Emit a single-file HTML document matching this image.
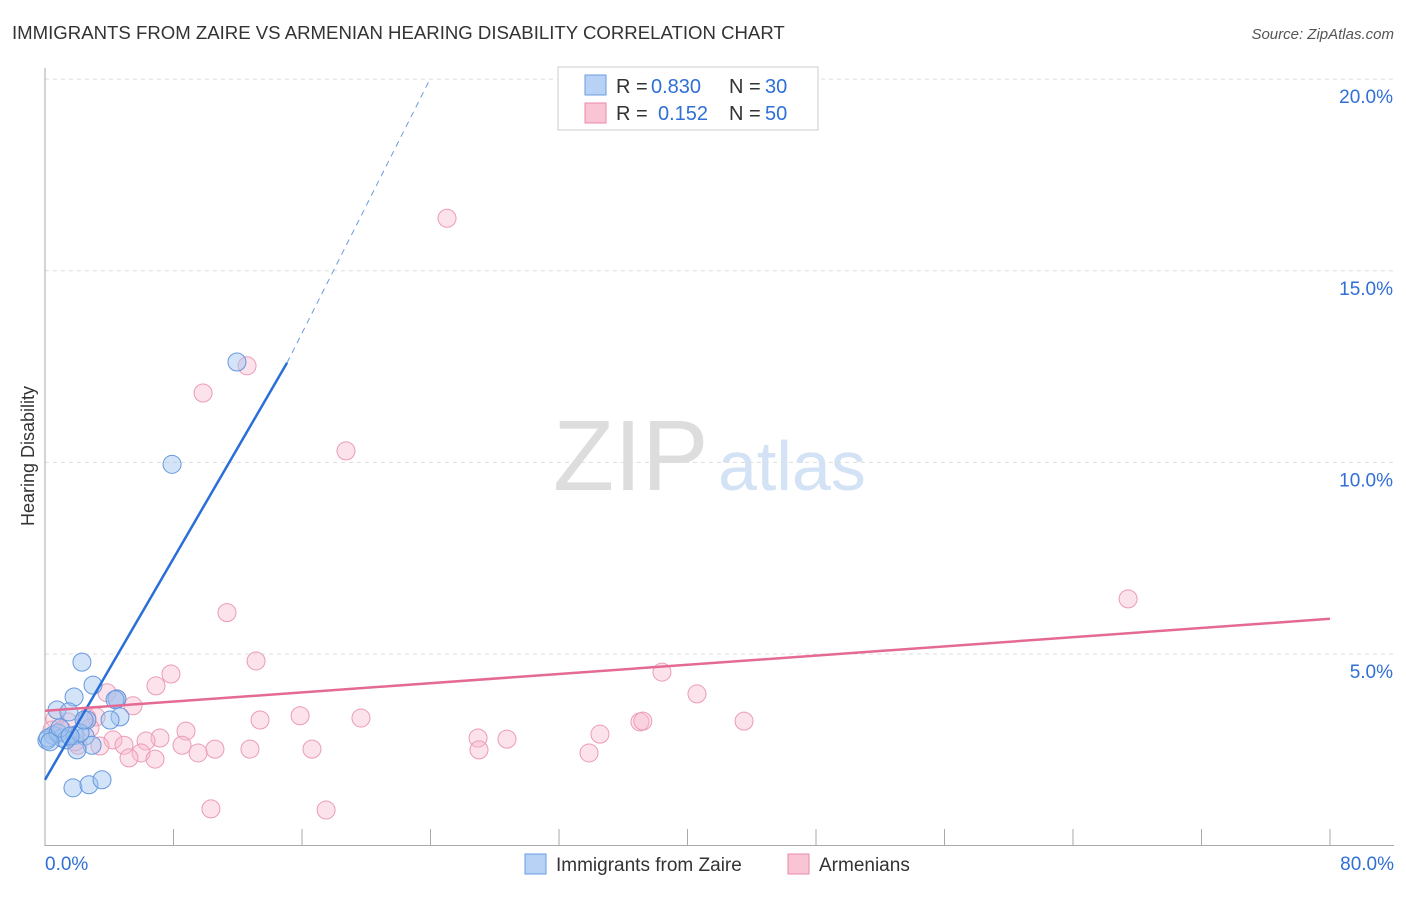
<!DOCTYPE html>
<html><head><meta charset="utf-8"><style>
body{margin:0;background:#fff;font-family:"Liberation Sans",sans-serif}
svg text{font-family:"Liberation Sans",sans-serif}
</style></head><body>
<svg id="c" width="1406" height="892">
<text x="12" y="39" font-size="18.6" fill="#333">IMMIGRANTS FROM ZAIRE VS ARMENIAN HEARING DISABILITY CORRELATION CHART</text>
<text x="1394" y="39" font-size="15" fill="#555" text-anchor="end" font-style="italic">Source: ZipAtlas.com</text>
<text x="553" y="490" font-size="100" fill="#ddd" font-family="Liberation Serif">ZIP</text>
<text x="718" y="490" font-size="70" fill="#d3e3f5">atlas</text>
<text transform="translate(34,456) rotate(-90)" font-size="18" fill="#333" text-anchor="middle">Hearing Disability</text>
<g id="grid"></g><g id="pts"></g><g id="lines"></g>
<g>
<rect x="558" y="67" width="260" height="63" fill="#fff" stroke="#ccc"/>
<rect x="585" y="75" width="21" height="20" fill="#b7d2f5" stroke="#6a9be0"/>
<rect x="585" y="103" width="21" height="20" fill="#f9c5d4" stroke="#e98aa8"/>
<text x="616" y="93" font-size="20" fill="#333">R =</text>
<text x="651" y="93" font-size="20" fill="#2f6fd6">0.830</text>
<text x="729" y="93" font-size="20" fill="#333">N =</text>
<text x="765" y="93" font-size="20" fill="#2f6fd6">30</text>
<text x="616" y="120" font-size="20" fill="#333">R =</text>
<text x="658" y="120" font-size="20" fill="#2f6fd6">0.152</text>
<text x="729" y="120" font-size="20" fill="#333">N =</text>
<text x="765" y="120" font-size="20" fill="#2f6fd6">50</text>
</g>
<g>
<rect x="525" y="854" width="21" height="20" fill="#b7d2f5" stroke="#6a9be0"/>
<text x="556" y="871" font-size="19" fill="#333">Immigrants from Zaire</text>
<rect x="788" y="854" width="21" height="20" fill="#f9c5d4" stroke="#e98aa8"/>
<text x="819" y="871" font-size="19" fill="#333">Armenians</text>
</g>
</svg>
<script>
const xTicks=[0,8,16,24,32,40,48,56,64,72,80];
const yTicks=[5,10,15,20];
const blueX=[11.95,7.91,2.30,2.99,1.81,0.75,1.49,4.48,4.67,2.61,0.12,0.50,1.06,1.87,2.49,2.93,1.99,1.74,2.74,3.55,0.19,0.81,1.31,2.18,4.05,2.43,0.31,0.93,1.56,4.36];
const blueY=[12.62,9.95,4.79,4.19,3.88,3.54,3.49,3.83,3.36,3.28,2.75,2.88,2.81,2.88,2.86,2.62,2.50,1.51,1.59,1.72,2.81,2.94,2.76,2.94,3.28,3.28,2.71,3.07,2.86,3.81];
const pinkX=[25.03,12.58,9.84,18.74,67.43,11.33,13.14,38.41,7.84,6.91,40.59,3.86,4.48,5.48,3.18,15.88,19.67,13.39,37.04,37.22,43.52,2.61,1.43,0.62,0.44,8.78,7.16,6.29,4.23,26.96,28.76,34.55,8.53,4.92,3.42,10.58,12.76,16.62,27.02,9.53,5.98,33.87,5.23,6.85,2.05,10.33,17.50,1.06,1.87,2.80];
const pinkY=[16.37,12.52,11.81,10.30,6.44,6.08,4.82,4.53,4.48,4.17,3.96,3.99,3.83,3.65,3.36,3.39,3.33,3.28,3.23,3.25,3.25,3.33,3.23,3.31,3.02,2.99,2.81,2.73,2.76,2.81,2.78,2.91,2.62,2.62,2.60,2.52,2.52,2.52,2.50,2.42,2.42,2.42,2.29,2.26,2.62,0.96,0.93,3.02,2.71,3.07];
const blueLine=[[0,1.72],[15.07,12.6],[23.97,20.0]];
const pinkLine=[[0,3.52],[80,5.92]];
const X=v=>45+v/80*1285, Y=v=>845.7-v*38.33;
const NS='http://www.w3.org/2000/svg';
function mk(t,a,p){const e=document.createElementNS(NS,t);for(const k in a)e.setAttribute(k,a[k]);p.appendChild(e);return e;}
const g=document.getElementById('grid');
yTicks.forEach(v=>{
 const l=mk('line',{x1:45,x2:1394,y1:Y(v),y2:Y(v),stroke:'#ddd','stroke-dasharray':'4,4'},g);
 
 
 const t=mk('text',{x:1393,y:Y(v)+24,'font-size':19,fill:'#2f6fd6','text-anchor':'end'},g);t.textContent=v.toFixed(1)+'%';
 
 
});
mk('line',{x1:45,x2:45,y1:68,y2:846,stroke:'#aaa'},g);
mk('line',{x1:45,x2:1394,y1:845.5,y2:845.5,stroke:'#aaa'},g);
xTicks.forEach(v=>{const l=mk('line',{x1:X(v),x2:X(v),y1:829,y2:846,stroke:'#aaa'},g);
 
 });
[[0,'0.0%',45,'start'],[80,'80.0%',1394,'end']].forEach(a=>{const t=mk('text',{x:a[2],y:870,'font-size':19,fill:'#2f6fd6','text-anchor':a[3]},g);t.textContent=a[1];
 
 });
const p=document.getElementById('pts');
pinkX.forEach((v,i)=>{const c=mk('circle',{cx:X(v),cy:Y(pinkY[i]),r:9,fill:'rgba(247,185,205,0.4)',stroke:'#ec9bb5','stroke-width':1},p);
 
 });
blueX.forEach((v,i)=>{const c=mk('circle',{cx:X(v),cy:Y(blueY[i]),r:9,fill:'rgba(160,195,240,0.45)',stroke:'#6598de','stroke-width':1},p);
 
 });
const L=document.getElementById('lines');
let b=mk('line',{x1:X(blueLine[0][0]),y1:Y(blueLine[0][1]),x2:X(blueLine[1][0]),y2:Y(blueLine[1][1]),stroke:'#2a6fd8','stroke-width':2.5},L);


b=mk('line',{x1:X(blueLine[1][0]),y1:Y(blueLine[1][1]),x2:X(blueLine[2][0]),y2:Y(blueLine[2][1]),stroke:'#6a9be0','stroke-width':1,'stroke-dasharray':'6,5'},L);


b=mk('line',{x1:X(pinkLine[0][0]),y1:Y(pinkLine[0][1]),x2:X(pinkLine[1][0]),y2:Y(pinkLine[1][1]),stroke:'#e56a93','stroke-width':2.5},L);


</script>
</body></html>
